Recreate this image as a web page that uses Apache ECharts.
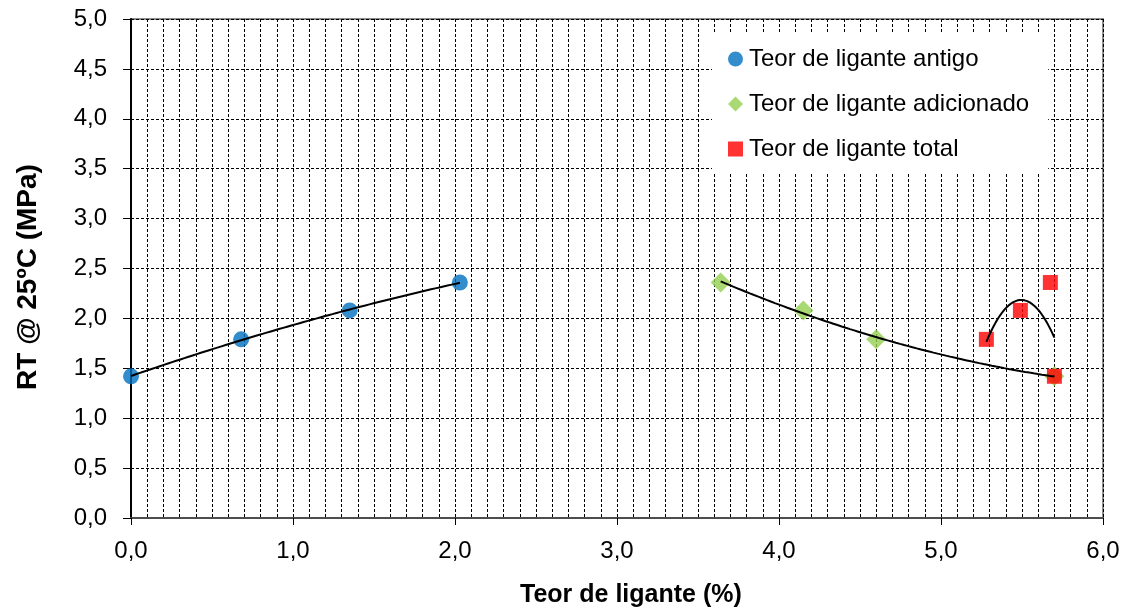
<!DOCTYPE html>
<html>
<head>
<meta charset="utf-8">
<script src="https://cdn.jsdelivr.net/npm/echarts@6/dist/echarts.min.js"></script>
<style>
html,body{margin:0;padding:0;background:#fff;}
#chart{width:1132px;height:614px;}
</style>
</head>
<body>
<div id="chart"></div>
<script>
// ---- data ----
var antigoX = [0.00, 0.68, 1.35, 2.03];
var antigoY = [1.42, 1.79, 2.08, 2.36];
var adicionadoX = [3.64, 4.15, 4.60, 5.70];
var adicionadoY = [2.36, 2.08, 1.79, 1.42];
var totalX = [5.28, 5.49, 5.675, 5.70];
var totalY = [1.79, 2.08, 2.36, 1.42];
var seriesNames = ['Teor de ligante antigo', 'Teor de ligante adicionado', 'Teor de ligante total'];
var xTitle = 'Teor de ligante (%)';
var yTitle = 'RT @ 25ºC (MPa)';

function pairs(xs, ys) { return xs.map(function (x, i) { return [x, ys[i]]; }); }

// least-squares polynomial (order 2) trendline, like the spreadsheet's trendline
function quadFit(xs, ys) {
  var n = xs.length, m = xs.reduce(function (a, b) { return a + b; }, 0) / n;
  var S = [0, 0, 0, 0, 0], T = [0, 0, 0];
  for (var i = 0; i < n; i++) {
    var u = xs[i] - m, p = 1;
    for (var k = 0; k < 5; k++) { S[k] += p; if (k < 3) T[k] += p * ys[i]; p *= u; }
  }
  var A = [[S[0], S[1], S[2], T[0]], [S[1], S[2], S[3], T[1]], [S[2], S[3], S[4], T[2]]];
  for (var c = 0; c < 3; c++) {
    for (var r = c + 1; r < 3; r++) {
      var f = A[r][c] / A[c][c];
      for (var k2 = c; k2 < 4; k2++) A[r][k2] -= f * A[c][k2];
    }
  }
  var coef = [0, 0, 0];
  for (var r2 = 2; r2 >= 0; r2--) {
    var s = A[r2][3];
    for (var k3 = r2 + 1; k3 < 3; k3++) s -= A[r2][k3] * coef[k3];
    coef[r2] = s / A[r2][r2];
  }
  var lo = Math.min.apply(null, xs), hi = Math.max.apply(null, xs), out = [];
  for (var j = 0; j <= 80; j++) {
    var x = lo + (hi - lo) * j / 80, uu = x - m;
    out.push([x, coef[0] + coef[1] * uu + coef[2] * uu * uu]);
  }
  return out;
}

function fmt(v) { return v.toFixed(1).replace('.', ','); }

var font = 'Arial, "Liberation Sans", sans-serif';
var dash = { color: '#000', width: 1, type: [3, 2] };
var trendStyle = { color: '#000', width: 2 };

var chart = echarts.init(document.getElementById('chart'), null, { renderer: 'canvas' });
chart.setOption({
  animation: false,
  backgroundColor: '#fff',
  textStyle: { fontFamily: font },
  grid: { left: 131, right: 29, top: 19, bottom: 96, show: true, borderColor: '#8c8c8c', borderWidth: 2, backgroundColor: 'transparent' },
  xAxis: {
    type: 'value', min: 0, max: 6, interval: 1,
    axisLine: { show: true, onZero: false, lineStyle: { color: '#4d4d4d', width: 2 } },
    axisTick: { show: true, length: 7, lineStyle: { color: '#000', width: 1 } },
    axisLabel: { fontSize: 24, color: '#000', margin: 21, formatter: fmt, fontFamily: font },
    splitLine: { show: true, lineStyle: dash },
    minorTick: { show: false, splitNumber: 10 },
    minorSplitLine: { show: true, lineStyle: dash }
  },
  yAxis: {
    type: 'value', min: 0, max: 5, interval: 0.5,
    axisLine: { show: true, onZero: false, lineStyle: { color: '#000', width: 2 } },
    axisTick: { show: true, length: 8, lineStyle: { color: '#000', width: 1 } },
    axisLabel: { fontSize: 24, color: '#000', margin: 24, formatter: fmt, fontFamily: font },
    splitLine: { show: true, lineStyle: dash }
  },
  legend: {
    orient: 'vertical', left: 712, top: 33,
    padding: [14, 19, 11, 16], itemGap: 21,
    itemWidth: 15, itemHeight: 15,
    backgroundColor: '#fff',
    textStyle: { fontSize: 24, color: '#000', fontFamily: font, padding: [0, 0, 0, 1] },
    data: [
      { name: seriesNames[0], icon: 'circle' },
      { name: seriesNames[1], icon: 'diamond' },
      { name: seriesNames[2], icon: 'rect' }
    ]
  },
  graphic: [
    { type: 'text', left: 520, top: 583, style: { text: xTitle, font: 'bold 25px ' + font, fill: '#000' }, silent: true },
    { type: 'text', x: 28, y: 277, rotation: Math.PI / 2, style: { text: yTitle, font: 'bold 28px ' + font, fill: '#000', align: 'center', verticalAlign: 'middle' }, silent: true }
  ],
  series: [
    { name: seriesNames[0], type: 'scatter', symbol: 'circle', symbolSize: 16, itemStyle: { color: '#0070C0' }, data: pairs(antigoX, antigoY), z: 3 },
    { name: seriesNames[1], type: 'scatter', symbol: 'diamond', symbolSize: 20, itemStyle: { color: '#92D050' }, data: pairs(adicionadoX, adicionadoY), z: 3 },
    { name: seriesNames[2], type: 'scatter', symbol: 'rect', symbolSize: 15, itemStyle: { color: '#FF0000' }, data: pairs(totalX, totalY), z: 4 },
    { name: 'trend1', type: 'line', showSymbol: false, symbol: 'none', data: quadFit(antigoX, antigoY), lineStyle: trendStyle, itemStyle: { color: '#000' }, z: 5, silent: true },
    { name: 'trend2', type: 'line', showSymbol: false, symbol: 'none', data: quadFit(adicionadoX, adicionadoY), lineStyle: trendStyle, itemStyle: { color: '#000' }, z: 5, silent: true },
    { name: 'trend3', type: 'line', showSymbol: false, symbol: 'none', data: quadFit(totalX, totalY), lineStyle: trendStyle, itemStyle: { color: '#000' }, z: 5, silent: true }
  ]
});
</script>
</body>
</html>
